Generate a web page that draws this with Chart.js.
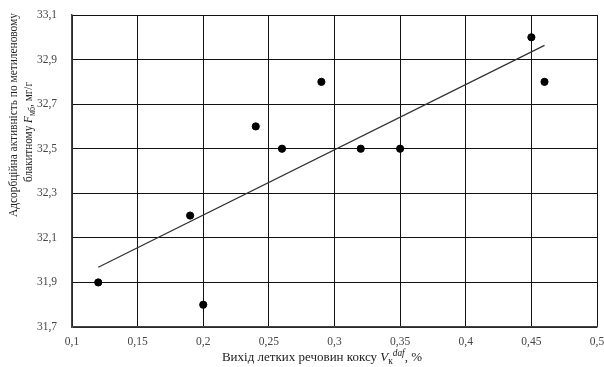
<!DOCTYPE html>
<html>
<head>
<meta charset="utf-8">
<script src="https://cdn.jsdelivr.net/npm/chart.js@4.4.1/dist/chart.umd.min.js"></script>
<style>
  html, body { margin: 0; padding: 0; background: #fff; }
  #wrap { width: 604px; height: 367px; }
</style>
</head>
<body>
<div id="wrap"><canvas id="chart" width="604" height="367"></canvas></div>
<script>
// Volatile matter yield of coke (%), x values
const volatileYield = [0.12, 0.19, 0.20, 0.24, 0.26, 0.29, 0.32, 0.35, 0.45, 0.46];
// Methylene blue adsorption activity (mg/g)
const adsorption = [31.9, 32.2, 31.8, 32.6, 32.5, 32.8, 32.5, 32.5, 33.0, 32.8];
// Linear trend end points
const trendX = [0.12, 0.46];
const trendY = [31.968, 32.964];
// Axis ticks
const xTicks = [0.1, 0.15, 0.2, 0.25, 0.3, 0.35, 0.4, 0.45, 0.5];
const yTicks = [31.7, 31.9, 32.1, 32.3, 32.5, 32.7, 32.9, 33.1];

const SERIF = '"Liberation Serif", "DejaVu Serif", serif';
const fmt = v => String(+v.toFixed(2)).replace('.', ',');

// Draws a run of text pieces (normal / italic / sub / sup) centred on (cx, cy),
// optionally squeezed horizontally to a given width
function drawRuns(ctx, runs, cx, cy, baseSize, fitWidth) {
  const parts = runs.map(r => {
    const size = r.sub || r.sup ? baseSize * 0.72 : baseSize;
    const font = (r.italic ? 'italic ' : '') + size + 'px ' + SERIF;
    ctx.font = font;
    return { text: r.text, font, w: ctx.measureText(r.text).width,
             dy: r.sub ? baseSize * 0.25 : (r.sup ? -baseSize * 0.38 : 0) };
  });
  const total = parts.reduce((s, p) => s + p.w, 0);
  ctx.save();
  ctx.translate(cx, cy);
  if (fitWidth && total > fitWidth) ctx.scale(fitWidth / total, 1);
  let x = -total / 2;
  ctx.textBaseline = 'middle';
  ctx.textAlign = 'left';
  parts.forEach(p => {
    ctx.font = p.font;
    ctx.fillText(p.text, x, p.dy);
    x += p.w;
  });
  ctx.restore();
}

const axisTitles = {
  id: 'axisTitles',
  afterDraw(chart) {
    const ctx = chart.ctx;
    ctx.save();
    ctx.fillStyle = '#222';
    drawRuns(ctx, [
      { text: 'Вихід летких речовин коксу ' },
      { text: 'V', italic: true },
      { text: 'к', sub: true },
      { text: 'daf', sup: true, italic: true },
      { text: ', %' }
    ], 322, 358, 13);
    ctx.restore();

    ctx.save();
    ctx.fillStyle = '#222';
    ctx.translate(14, 115);
    ctx.rotate(-Math.PI / 2);
    drawRuns(ctx, [{ text: 'Адсорбційна активність по метиленовому' }], 0, 0, 13, 204);
    ctx.restore();

    ctx.save();
    ctx.fillStyle = '#222';
    ctx.translate(29, 132);
    ctx.rotate(-Math.PI / 2);
    drawRuns(ctx, [
      { text: 'блакитному ' },
      { text: 'F', italic: true },
      { text: 'мб', sub: true },
      { text: ', мг/г' }
    ], 0, 0, 13, 100);
    ctx.restore();
  }
};

new Chart(document.getElementById('chart'), {
  type: 'scatter',
  data: {
    datasets: [
      {
        label: 'data',
        data: volatileYield.map((x, i) => ({ x, y: adsorption[i] })),
        backgroundColor: '#000',
        borderColor: '#000',
        pointRadius: 3.6,
        pointHoverRadius: 3.6,
        showLine: false
      },
      {
        label: 'trend',
        data: trendX.map((x, i) => ({ x, y: trendY[i] })),
        borderColor: '#333',
        borderWidth: 1.3,
        pointRadius: 0,
        showLine: true,
        fill: false
      }
    ]
  },
  options: {
    responsive: false,
    animation: false,
    devicePixelRatio: 1,
    layout: { padding: { top: 15, right: 7, left: 0, bottom: 0 } },
    plugins: { legend: { display: false }, tooltip: { enabled: false } },
    scales: {
      x: {
        type: 'linear',
        min: 0.1, max: 0.5,
        afterBuildTicks: s => { s.ticks = xTicks.map(v => ({ value: v })); },
        afterFit: s => { s.height = 40; s.paddingLeft = 0; s.paddingRight = 0; },
        ticks: {
          callback: v => fmt(v),
          color: '#444',
          font: { family: SERIF, size: 11.5 },
          padding: 8,
          maxRotation: 0,
          autoSkip: false
        },
        grid: { color: '#111', lineWidth: 1, drawTicks: false },
        border: { color: '#444', width: 1.5 }
      },
      y: {
        type: 'linear',
        min: 31.7, max: 33.1,
        afterBuildTicks: s => { s.ticks = yTicks.map(v => ({ value: v })); },
        afterFit: s => { s.width = 72; s.paddingTop = 0; s.paddingBottom = 0; },
        ticks: {
          callback: v => fmt(v),
          color: '#444',
          font: { family: SERIF, size: 11.5 },
          padding: 15,
          autoSkip: false
        },
        grid: { color: '#111', lineWidth: 1, drawTicks: false },
        border: { color: '#444', width: 1.5 }
      }
    }
  },
  plugins: [axisTitles]
});
</script>
</body>
</html>
